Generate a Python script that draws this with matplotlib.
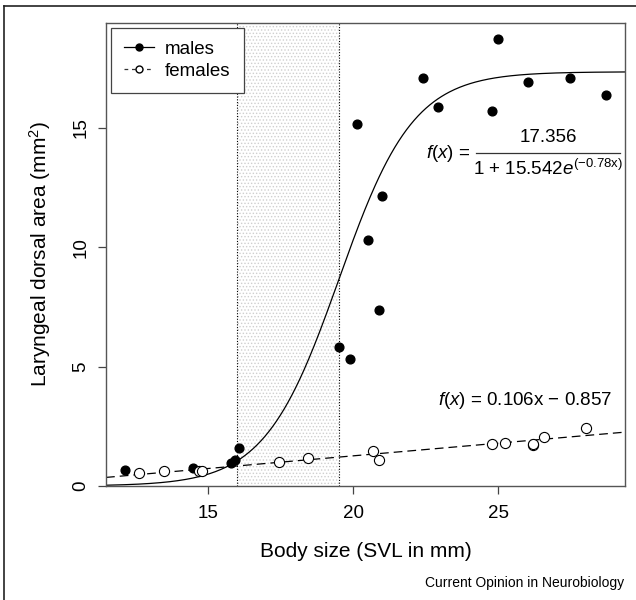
import numpy as np
import matplotlib.pyplot as plt
from matplotlib.lines import Line2D

plt.rcParams['font.family'] = ['Liberation Sans', 'DejaVu Sans']
plt.rcParams['mathtext.fontset'] = 'custom'
plt.rcParams['mathtext.rm'] = 'Liberation Sans'
plt.rcParams['mathtext.it'] = 'Liberation Sans:italic'
plt.rcParams['hatch.color'] = '#cfcfcf'
plt.rcParams['hatch.linewidth'] = 0.6

# body size (SVL, mm) and laryngeal dorsal area (mm^2)
male_x = [12.14, 14.47, 15.79, 15.93, 16.05, 19.50, 19.88, 20.14, 20.50, 20.91,
          20.99, 22.41, 22.94, 24.81, 25.01, 26.03, 27.50, 28.73]
male_y = [0.67, 0.77, 0.98, 1.08, 1.58, 5.84, 5.31, 15.17, 10.29, 7.39,
          12.13, 17.09, 15.88, 15.71, 18.72, 16.92, 17.11, 16.37]
female_x = [12.63, 13.48, 14.68, 14.79, 17.44, 18.46, 20.70, 20.91, 24.78,
            25.24, 26.19, 26.21, 26.60, 28.02]
female_y = [0.53, 0.62, 0.63, 0.64, 0.99, 1.16, 1.48, 1.10, 1.75,
            1.79, 1.71, 1.76, 2.05, 2.42]

# fitted models
K, A, r, x0 = 17.356, 15.542, 0.78, 16.0
slope, intercept = 0.106, -0.857
shade = (16.0, 19.5)

xlim = (11.48, 29.38)
ylim = (0, 19.4)

fig = plt.figure(figsize=(6.36, 6.0), dpi=100)
ax = fig.add_axes([0.1667, 0.19, 0.816, 0.7717])

# outer frame of the figure
fig.add_artist(Line2D([0.0065, 0.0065], [0, 0.99], transform=fig.transFigure,
                      color='#222222', lw=1.2))
fig.add_artist(Line2D([0.0065, 1.0], [0.99, 0.99], transform=fig.transFigure,
                      color='#222222', lw=1.2))

ax.axvspan(shade[0], shade[1], facecolor='white', edgecolor='#cfcfcf',
           hatch='.....', lw=0, zorder=0)
for xv in shade:
    ax.axvline(xv, color='black', ls=(0, (1, 1.5)), lw=0.8, zorder=1)

xs = np.linspace(xlim[0], xlim[1], 400)
ax.plot(xs, K / (1 + A * np.exp(-r * (xs - x0))), color='black', lw=0.9, zorder=2)
ax.plot(xs, slope * xs + intercept, color='black', lw=0.9,
        dashes=(7, 4), zorder=2)

ax.plot(male_x, male_y, 'o', color='black', ms=6.3, zorder=3)
ax.plot(female_x, female_y, 'o', mfc='white', mec='black', mew=0.8,
        ms=7.3, zorder=3)

# logistic equation, drawn as a stacked fraction
ax.text(24.03, 13.95, r'$\mathit{f}(\mathit{x})$ =', ha='right', va='center',
        fontsize=13.5)
ax.text(26.72, 14.62, '17.356', ha='center', va='center', fontsize=13.5)
ax.plot([24.25, 29.2], [13.95, 13.95], color='#333333', lw=0.9)
ax.text(26.72, 13.3, r'1 + 15.542$\mathit{e}^{(-0.78\mathrm{x})}$',
        ha='center', va='center', fontsize=13.5)

ax.text(25.93, 3.57, r'$\mathit{f}(\mathit{x})$ = 0.106x $-$ 0.857',
        ha='center', va='center', fontsize=13.5)

h_m = Line2D([], [], color='black', lw=0.9, marker='o', ms=5)
h_f = Line2D([], [], color='#333333', lw=0.9, dashes=(3, 3), marker='o',
             mfc='white', mec='black', ms=5)
leg = ax.legend([h_m, h_f], ['males', 'females'], loc='upper left',
                fontsize=13.5, fancybox=False, framealpha=1, edgecolor='#444444',
                borderaxespad=0.25, handlelength=1.6, handletextpad=0.6,
                borderpad=0.7, labelspacing=0.25)
leg.get_frame().set_linewidth(0.9)

ax.set_xlim(xlim)
ax.set_ylim(ylim)
ax.set_xticks([15, 20, 25])
ax.set_yticks([0, 5, 10, 15])
ax.tick_params(labelsize=13.5, length=6, width=0.9, color='#444444')
ax.tick_params(axis='x', pad=8)
ax.tick_params(axis='y', pad=6)
for lab in ax.get_yticklabels():
    lab.set_rotation(90)
    lab.set_va('center')
for s in ax.spines.values():
    s.set_color('#555555')
    s.set_linewidth(1.0)

ax.set_xlabel('Body size (SVL in mm)', fontsize=15, labelpad=14)
ax.set_ylabel(r'Laryngeal dorsal area (mm$^2$)', fontsize=15, labelpad=14)

fig.text(0.981, 0.028, 'Current Opinion in Neurobiology', ha='right',
         va='center', fontsize=10)

fig.savefig('out.png', dpi=100)
